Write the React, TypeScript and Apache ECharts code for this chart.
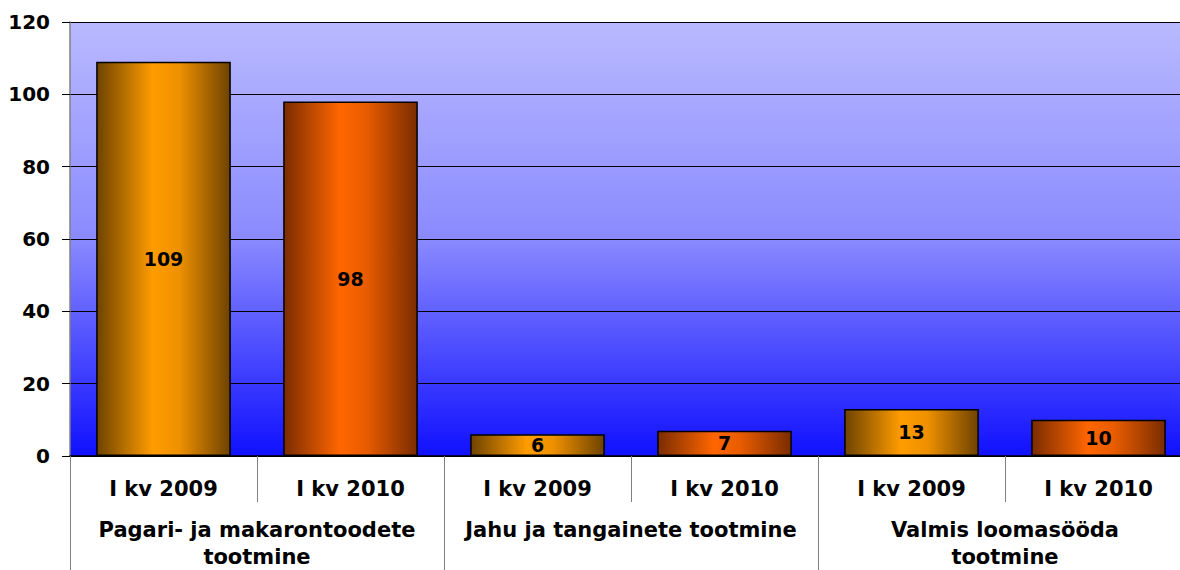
import React, { useEffect, useRef } from "react";
import * as echarts from "echarts";

const categories = ["I kv 2009", "I kv 2010", "I kv 2009", "I kv 2010", "I kv 2009", "I kv 2010"];
const groups = ["Pagari- ja makarontoodete\ntootmine", "Jahu ja tangainete tootmine", "Valmis loomasööda\ntootmine"];
const values = [109, 98, 6, 7, 13, 10];
const yTicks = { min: 0, max: 120, interval: 20 };

const FONT = "'DejaVu Sans', Verdana, sans-serif";

function barGradient(dark: string, bright: string, mid: string) {
  return new echarts.graphic.LinearGradient(0, 0, 1, 0, [
    { offset: 0, color: dark },
    { offset: 0.42, color: bright },
    { offset: 0.62, color: mid },
    { offset: 1, color: dark },
  ]);
}

export default function App() {
  const ref = useRef<HTMLDivElement>(null);
  useEffect(() => {
    if (!ref.current) return;
    const chart = echarts.init(ref.current, null, { renderer: "svg" });
    const c2009 = barGradient("#6e4300", "#ff9c00", "#ee9000");
    const c2010 = barGradient("#7a2c00", "#ff6600", "#e85c00");
    chart.setOption({
      animation: false,
      grid: {
        left: 70,
        top: 22,
        width: 1122,
        height: 434,
        outerBoundsMode: "none",
        containLabel: false,
        show: true,
        borderWidth: 0,
        backgroundColor: new echarts.graphic.LinearGradient(0, 0, 0, 1, [
          { offset: 0, color: "#b9b9ff" },
          { offset: 0.5, color: "#8a8aff" },
          { offset: 1, color: "#1010ff" },
        ]),
      },
      xAxis: [
        {
          type: "category",
          position: "bottom",
          data: categories,
          axisLine: { show: true, lineStyle: { color: "#000", width: 1.5 } },
          axisTick: { show: true, length: 46, interval: 0, lineStyle: { color: "#808080" } },
          axisLabel: {
            interval: 0,
            margin: 22,
            fontFamily: FONT,
            fontWeight: "bold",
            fontSize: 21,
            color: "#000",
          },
        },
        {
          type: "category",
          position: "bottom",
          data: groups,
          axisLine: { show: false },
          axisTick: { show: true, length: 130, interval: 0, lineStyle: { color: "#808080" } },
          axisLabel: {
            interval: 0,
            margin: 60,
            lineHeight: 27,
            fontFamily: FONT,
            fontWeight: "bold",
            fontSize: 21,
            color: "#000",
          },
        },
      ],
      yAxis: {
        type: "value",
        min: yTicks.min,
        max: yTicks.max,
        interval: yTicks.interval,
        axisLine: { show: true, lineStyle: { color: "#808080", width: 1.5 } },
        axisTick: { show: true, length: 8, lineStyle: { color: "#000" } },
        splitLine: { show: true, lineStyle: { color: "#000", width: 1 } },
        axisLabel: {
          margin: 20,
          fontFamily: FONT,
          fontWeight: "bold",
          fontSize: 20,
          color: "#000",
        },
      },
      series: [
        {
          type: "bar",
          xAxisIndex: 0,
          barWidth: "72%",
          data: values.map((v, i) => ({
            value: v,
            itemStyle: { color: i % 2 === 0 ? c2009 : c2010 },
          })),
          itemStyle: { borderColor: "#000", borderWidth: 1.5 },
          label: {
            show: true,
            position: "inside",
            fontFamily: FONT,
            fontWeight: "bold",
            fontSize: 19,
            color: "#000",
          },
        },
      ],
    });
    return () => chart.dispose();
  }, []);
  return (
    <div
      ref={ref}
      style={{ position: "absolute", left: 0, top: 0, width: 1180, height: 570, background: "#fff" }}
    />
  );
}
